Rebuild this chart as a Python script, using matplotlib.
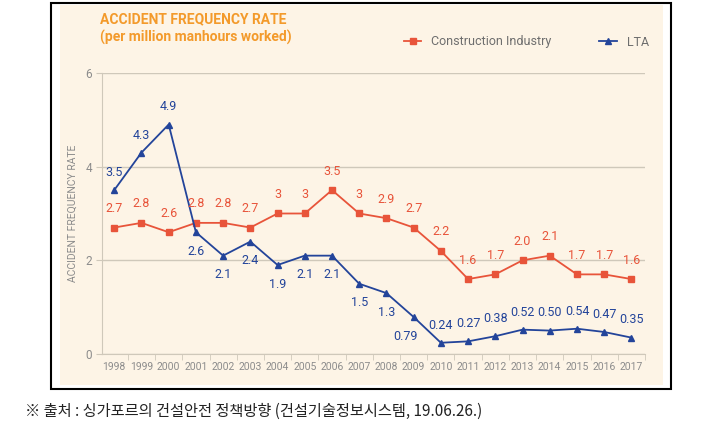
import matplotlib
matplotlib.use('Agg')
import matplotlib.pyplot as plt
from matplotlib.patches import Rectangle

plt.rcParams['font.family'] = ['Liberation Sans Narrow', 'Roboto', 'DejaVu Sans']

# ---------------------- Data ---------------------- #
years = [str(y) for y in range(1998, 2018)]
construction = [2.7, 2.8, 2.6, 2.8, 2.8, 2.7, 3, 3, 3.5, 3, 2.9, 2.7, 2.2, 1.6, 1.7, 2.0, 2.1, 1.7, 1.7, 1.6]
construction_labels = ['2.7', '2.8', '2.6', '2.8', '2.8', '2.7', '3', '3', '3.5', '3', '2.9', '2.7',
                       '2.2', '1.6', '1.7', '2.0', '2.1', '1.7', '1.7', '1.6']
lta = [3.5, 4.3, 4.9, 2.6, 2.1, 2.4, 1.9, 2.1, 2.1, 1.5, 1.3, 0.79, 0.24, 0.27, 0.38, 0.52, 0.50, 0.54, 0.47, 0.35]
lta_labels = ['3.5', '4.3', '4.9', '2.6', '2.1', '2.4', '1.9', '2.1', '2.1', '1.5', '1.3', '0.79',
              '0.24', '0.27', '0.38', '0.52', '0.50', '0.54', '0.47', '0.35']
lta_above = [True, True, True, False, False, False, False, False, False, False, False, False,
             True, True, True, True, True, True, True, True]

# colours
BG = '#FDF4E6'
ORANGE = '#F39A2B'
RED = '#E8543A'
BLUE = '#23449A'
GRAY = '#8C8C8C'
GRID = '#CFC8BA'

W, H = 704, 440
fig = plt.figure(figsize=(7.04, 4.40), dpi=100)

# frame + cream panel (pixel coords converted to figure fractions)
def px_rect(x0, y0, x1, y1, **kw):
    return Rectangle((x0 / W, 1 - y1 / H), (x1 - x0) / W, (y1 - y0) / H,
                     transform=fig.transFigure, **kw)

fig.patches.append(px_rect(51, 3, 671, 389, facecolor='white', edgecolor='black', linewidth=1.5, zorder=-2))
fig.patches.append(px_rect(60, 5, 663, 385, facecolor=BG, edgecolor='none', zorder=-1))

ax = fig.add_axes([102 / W, 1 - 354 / H, (645 - 102) / W, (354 - 73) / H])
ax.set_facecolor('none')

x = list(range(len(years)))
ax.plot(x, construction, color=RED, marker='s', markersize=5, linewidth=1.3, label='Construction Industry')
ax.plot(x, lta, color=BLUE, marker='^', markersize=5, linewidth=1.3, label='LTA')

for i, (v, t) in enumerate(zip(construction, construction_labels)):
    ax.annotate(t, (i, v), xytext=(0, 9), textcoords='offset points', ha='center', va='bottom',
                color=RED, fontsize=9)
for i, (v, t, up) in enumerate(zip(lta, lta_labels, lta_above)):
    dx = 0
    if i == 11:
        dx = -6
    ax.annotate(t, (i, v), xytext=(dx, 8 if up else -9), textcoords='offset points', ha='center',
                va='bottom' if up else 'top', color=BLUE, fontsize=9)

ax.set_xlim(-0.45, 19.48)
ax.set_ylim(0, 6)
ax.set_yticks([0, 2, 4, 6])
ax.set_xticks(x)
ax.set_xticklabels(years)
ax.set_xticks([i - 0.5 for i in range(1, 21)], minor=True)
ax.tick_params(axis='x', which='major', length=0, labelsize=7.5, labelcolor=GRAY, pad=6)
ax.tick_params(axis='x', which='minor', length=4, color=GRID, direction='out')
ax.tick_params(axis='y', length=4, color=GRID, labelsize=8.5, labelcolor=GRAY, pad=3)
ax.grid(axis='y', color=GRID, linewidth=1)
ax.set_axisbelow(True)
for s in ['top', 'right']:
    ax.spines[s].set_visible(False)
ax.spines['left'].set_color(GRID)
ax.spines['bottom'].set_color(GRID)
ax.set_ylabel('ACCIDENT FREQUENCY RATE', color=GRAY, fontsize=7.5, labelpad=6)

fig.text(100 / W, 1 - 19 / H, 'ACCIDENT FREQUENCY RATE', color=ORANGE, fontsize=10,
         fontweight='bold', va='center', ha='left')
fig.text(100 / W, 1 - 37 / H, '(per million manhours worked)', color=ORANGE, fontsize=10,
         fontweight='bold', va='center', ha='left')

leg = fig.legend(loc='center right', bbox_to_anchor=(660 / W, 1 - 42 / H), ncol=2, frameon=False,
                 fontsize=9, handlelength=1.4, columnspacing=3.8, markerscale=0.9)
for t in leg.get_texts():
    t.set_color('#6E6E6E')

fig.text(25 / W, 1 - 411 / H, '※ 출처 : 싱가포르의 건설안전 정책방향 (건설기술정보시스템, 19.06.26.)',
         fontsize=11, color='#222222', va='center', ha='left',
         family=['Noto Sans CJK KR', 'DejaVu Sans'])

fig.savefig('out.png', dpi=100)
